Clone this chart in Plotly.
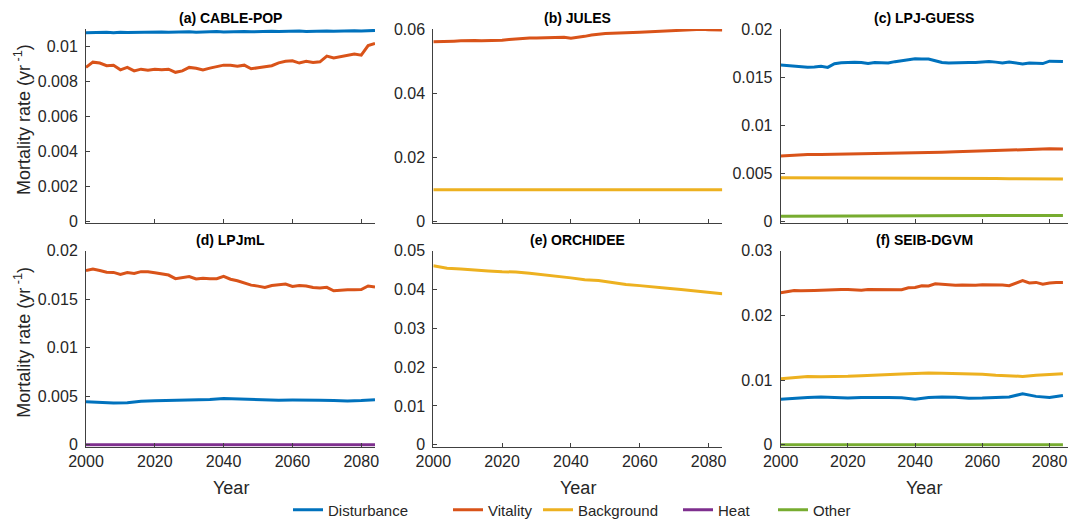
import plotly.graph_objects as go

W, H = 1068, 521

# ---------------- data ----------------
years2 = list(range(2000, 2085, 2))   # 43 points
years4 = list(range(2000, 2085, 4))   # 22 points

cable_dist = [0.01078, 0.01080, 0.01079, 0.01081, 0.01079, 0.01082, 0.01080, 0.01081, 0.01079, 0.01082,
              0.01081, 0.01083, 0.01081, 0.01083, 0.01082, 0.01084, 0.01082, 0.01084, 0.01083, 0.01085,
              0.01083, 0.01085, 0.01084, 0.01086, 0.01084, 0.01086, 0.01085, 0.01087, 0.01085, 0.01087,
              0.01086, 0.01088, 0.01086, 0.01088, 0.01087, 0.01089, 0.01087, 0.01089, 0.01088, 0.01090,
              0.01088, 0.01090, 0.01092]
cable_vit = [0.00880, 0.00910, 0.00905, 0.00890, 0.00892, 0.00866, 0.00880, 0.00860, 0.00870, 0.00864,
             0.00870, 0.00866, 0.00870, 0.00852, 0.00860, 0.00880, 0.00875, 0.00866, 0.00876, 0.00884,
             0.00893, 0.00893, 0.00887, 0.00893, 0.00872, 0.00878, 0.00882, 0.00890, 0.00906, 0.00915,
             0.00918, 0.00905, 0.00915, 0.00908, 0.00912, 0.00945, 0.00934, 0.00940, 0.00950, 0.00956,
             0.00950, 0.01005, 0.01017]

jules_vit = [0.0560, 0.0560, 0.0561, 0.0562, 0.0563, 0.0564, 0.0564, 0.0563, 0.0563, 0.0564,
             0.0565, 0.0567, 0.0569, 0.0571, 0.0572, 0.0572, 0.0573, 0.0574, 0.0575, 0.0574,
             0.0571, 0.0573, 0.0577, 0.0581, 0.0584, 0.0586, 0.0587, 0.0587, 0.0588, 0.0589,
             0.0590, 0.0591, 0.0592, 0.0593, 0.0594, 0.0595, 0.0598, 0.0599, 0.0599, 0.0599,
             0.0598, 0.0597, 0.0597]
jules_bg = [0.0098, 0.0098, 0.0098, 0.0098, 0.0098, 0.0098, 0.0098, 0.0098, 0.0098, 0.0098, 0.0098,
            0.0098, 0.0098, 0.0098, 0.0098, 0.0098, 0.0098, 0.0098, 0.0098, 0.0098, 0.0098, 0.0098]

lpjg_dist = [0.01625, 0.01620, 0.01615, 0.01610, 0.01602, 0.01605, 0.01612, 0.01600, 0.01638, 0.01648,
             0.01652, 0.01655, 0.01652, 0.01640, 0.01650, 0.01648, 0.01646, 0.01660, 0.01668, 0.01678,
             0.01690, 0.01688, 0.01688, 0.01670, 0.01652, 0.01646, 0.01650, 0.01655, 0.01652, 0.01650,
             0.01658, 0.01662, 0.01655, 0.01646, 0.01656, 0.01645, 0.01636, 0.01645, 0.01646, 0.01640,
             0.01665, 0.01665, 0.01662]
lpjg_vit = [0.00677, 0.00688, 0.00692, 0.00694, 0.00696, 0.00698, 0.00701, 0.00703, 0.00705, 0.00707, 0.00708,
            0.00712, 0.00717, 0.00722, 0.00727, 0.00731, 0.00736, 0.00740, 0.00745, 0.00749, 0.00752, 0.00750]
lpjg_bg = [0.00450, 0.00450, 0.00450, 0.00450, 0.00450, 0.00450, 0.00450, 0.00450, 0.00449, 0.00449, 0.00448,
           0.00448, 0.00447, 0.00446, 0.00445, 0.00444, 0.00443, 0.00442, 0.00441, 0.00440, 0.00439, 0.00438]
lpjg_oth = [0.00050, 0.00050, 0.00051, 0.00051, 0.00052, 0.00052, 0.00053, 0.00053, 0.00054, 0.00054, 0.00055,
            0.00055, 0.00055, 0.00056, 0.00056, 0.00057, 0.00057, 0.00058, 0.00058, 0.00058, 0.00059, 0.00059]

lpjml_vit = [0.01796, 0.01810, 0.01796, 0.01779, 0.01776, 0.01756, 0.01774, 0.01765, 0.01784, 0.01783,
             0.01772, 0.01760, 0.01749, 0.01712, 0.01722, 0.01733, 0.01708, 0.01716, 0.01712, 0.01712,
             0.01735, 0.01706, 0.01690, 0.01665, 0.01645, 0.01635, 0.01622, 0.01642, 0.01646, 0.01656,
             0.01632, 0.01642, 0.01636, 0.01620, 0.01615, 0.01622, 0.01587, 0.01595, 0.01598, 0.01598,
             0.01600, 0.01636, 0.01626]
lpjml_dist = [0.00443, 0.00436, 0.00430, 0.00433, 0.00448, 0.00454, 0.00456, 0.00455, 0.00462, 0.00466, 0.00476,
              0.00472, 0.00462, 0.00457, 0.00460, 0.00461, 0.00462, 0.00458, 0.00455, 0.00450, 0.00455, 0.00465]
lpjml_heat = [0, 0, 0, 0, 0, 0, 0, 0, 0, 0, 0, 0, 0, 0, 0, 0, 0, 0, 0, 0, 0, 0]

orch_bg = [0.0461, 0.0455, 0.0453, 0.0450, 0.0448, 0.0446, 0.0445, 0.0442, 0.0438, 0.0435, 0.0430,
           0.0425, 0.0423, 0.0418, 0.0413, 0.0410, 0.0406, 0.0403, 0.0400, 0.0396, 0.0392, 0.0389]

seib_vit = [0.02349, 0.02368, 0.02385, 0.02382, 0.02380, 0.02386, 0.02388, 0.02395, 0.02399, 0.02400,
            0.02401, 0.02398, 0.02390, 0.02400, 0.02398, 0.02395, 0.02398, 0.02402, 0.02398, 0.02428,
            0.02430, 0.02458, 0.02456, 0.02488, 0.02480, 0.02470, 0.02465, 0.02468, 0.02462, 0.02465,
            0.02472, 0.02475, 0.02472, 0.02470, 0.02458, 0.02500, 0.02537, 0.02502, 0.02510, 0.02482,
            0.02502, 0.02508, 0.02510]
seib_bg = [0.01021, 0.01040, 0.01055, 0.01052, 0.01050, 0.01058, 0.01068, 0.01080, 0.01088, 0.01095, 0.01100,
           0.01108, 0.01104, 0.01100, 0.01098, 0.01090, 0.01075, 0.01062, 0.01057, 0.01075, 0.01085, 0.01098]
seib_dist = [0.00704, 0.00722, 0.00730, 0.00738, 0.00725, 0.00722, 0.00730, 0.00735, 0.00730, 0.00725, 0.00704,
             0.00730, 0.00740, 0.00735, 0.00718, 0.00722, 0.00728, 0.00740, 0.00787, 0.00748, 0.00730, 0.00760]
seib_oth = [0, 0, 0, 0, 0, 0, 0, 0, 0, 0, 0, 0, 0, 0, 0, 0, 0, 0, 0, 0, 0, 0]

panel_titles = ["(a) CABLE-POP", "(b) JULES", "(c) LPJ-GUESS", "(d) LPJmL", "(e) ORCHIDEE", "(f) SEIB-DGVM"]
y_max = [0.011, 0.06, 0.02, 0.02, 0.05, 0.03]
y_ticks = [[0, 0.002, 0.004, 0.006, 0.008, 0.01],
           [0, 0.02, 0.04, 0.06],
           [0, 0.005, 0.01, 0.015, 0.02],
           [0, 0.005, 0.01, 0.015, 0.02],
           [0, 0.01, 0.02, 0.03, 0.04, 0.05],
           [0, 0.01, 0.02, 0.03]]
y_ticktext = [["0", "0.002", "0.004", "0.006", "0.008", "0.01"],
              ["0", "0.02", "0.04", "0.06"],
              ["0", "0.005", "0.01", "0.015", "0.02"],
              ["0", "0.005", "0.01", "0.015", "0.02"],
              ["0", "0.01", "0.02", "0.03", "0.04", "0.05"],
              ["0", "0.01", "0.02", "0.03"]]
x_ticks = [2000, 2020, 2040, 2060, 2080]
x_ticktext = ["2000", "2020", "2040", "2060", "2080"]

series_names = ["Disturbance", "Vitality", "Background", "Heat", "Other"]
colors = {"Disturbance": "#0072BD", "Vitality": "#D95319", "Background": "#EDB120",
          "Heat": "#7E2F8E", "Other": "#77AC30"}

panels = [
    [("Disturbance", years2, cable_dist), ("Vitality", years2, cable_vit)],
    [("Vitality", years2, jules_vit), ("Background", years4, jules_bg)],
    [("Disturbance", years2, lpjg_dist), ("Vitality", years4, lpjg_vit),
     ("Background", years4, lpjg_bg), ("Other", years4, lpjg_oth)],
    [("Vitality", years2, lpjml_vit), ("Disturbance", years4, lpjml_dist), ("Heat", years4, lpjml_heat)],
    [("Background", years4, orch_bg)],
    [("Vitality", years2, seib_vit), ("Background", years4, seib_bg),
     ("Disturbance", years4, seib_dist), ("Other", years4, seib_oth)],
]

# ---------------- layout geometry (pixels) ----------------
col_px = [(86, 375), (433.3, 722.3), (780.7, 1068)]
row_px = [(29, 223), (250.7, 446.7)]
x_end = [2084, 2084, 2000 + (1068 - 780.7) / 3.36]
legend_text_x = [330, 490, 580, 720, 815]

def px_x(v):
    return v / W

def px_y(v):
    return 1 - v / H

AX_COL = "#404040"
TXT_COL = "#262626"
FONT = "Liberation Sans, Arial, Helvetica, sans-serif"

fig = go.Figure()
shown = set()
layout = {}
annotations = []

for i, traces in enumerate(panels):
    r, c = divmod(i, 3)
    n = "" if i == 0 else str(i + 1)
    for name, xs, ys in traces:
        k = series_names.index(name)
        fig.add_trace(go.Scatter(
            x=xs, y=ys, mode="lines", name=name,
            line=dict(color=colors[name], width=3),
            legendgroup=name, showlegend=name not in shown,
            legend="legend" if k == 0 else "legend" + str(k + 1),
            xaxis="x" + n, yaxis="y" + n, hoverinfo="skip"))
        shown.add(name)
    x0, x1 = col_px[c]
    yt, yb = row_px[r]
    layout["xaxis" + n] = dict(
        domain=[px_x(x0), px_x(x1)], anchor="y" + n, range=[2000, x_end[c]], automargin=False,
        showline=True, linecolor=AX_COL, linewidth=1, showgrid=False, zeroline=False,
        ticks="inside", ticklen=4, tickcolor=AX_COL, tickvals=x_ticks, ticktext=x_ticktext,
        ticklabeloverflow="allow",
        showticklabels=(r == 1), tickfont=dict(size=16, color=TXT_COL, family=FONT))
    ym = y_max[i]
    layout["yaxis" + n] = dict(
        domain=[px_y(yb), px_y(yt)], anchor="x" + n, range=[-ym * 0.01, ym], automargin=False,
        showline=True, linecolor=AX_COL, linewidth=1, showgrid=False, zeroline=False,
        ticks="inside", ticklen=4, tickcolor=AX_COL, tickvals=y_ticks[i], ticktext=y_ticktext[i],
        ticklabelstandoff=4, ticklabeloverflow="allow",
        tickfont=dict(size=16, color=TXT_COL, family=FONT))
    annotations.append(dict(
        text="<b>" + panel_titles[i] + "</b>", xref="paper", yref="paper",
        x=px_x((x0 + x1) / 2), y=px_y(yt - 11), xanchor="center", yanchor="middle",
        showarrow=False, font=dict(size=14, color="#000000", family=FONT)))
    if r == 1:
        annotations.append(dict(
            text="Year", xref="paper", yref="paper",
            x=px_x((x0 + x1) / 2), y=px_y(488), xanchor="center", yanchor="middle",
            showarrow=False, font=dict(size=18, color=TXT_COL, family=FONT)))
    if c == 0:
        annotations.append(dict(
            text="Mortality rate (yr<sup> -1</sup>)", xref="paper", yref="paper",
            x=px_x(23), y=px_y((yt + yb) / 2 - 6), xanchor="center", yanchor="middle",
            textangle=-90, showarrow=False, font=dict(size=18, color=TXT_COL, family=FONT)))

legends = {}
for k, tx in enumerate(legend_text_x):
    key = "legend" if k == 0 else "legend" + str(k + 1)
    legends[key] = dict(orientation="h", x=px_x(tx - 42), y=px_y(510), xanchor="left", yanchor="middle",
                        font=dict(size=15, color=TXT_COL, family=FONT), bgcolor="rgba(0,0,0,0)",
                        borderwidth=0)

fig.update_layout(
    width=W, height=H, margin=dict(l=0, r=0, t=0, b=0, autoexpand=False),
    paper_bgcolor="white", plot_bgcolor="white",
    font=dict(family=FONT, color=TXT_COL),
    showlegend=True,
    annotations=annotations,
    **legends,
    **layout)

fig.write_html("out.html", config={"displayModeBar": False},
               post_script="document.body.style.margin='0';document.body.style.overflow='hidden';")
